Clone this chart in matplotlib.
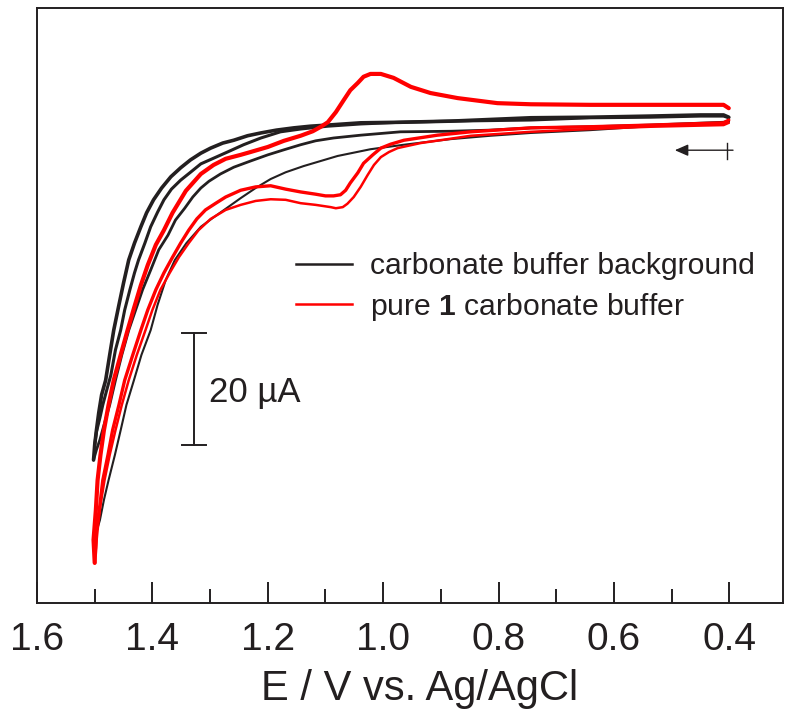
import matplotlib
matplotlib.use("Agg")
import matplotlib.pyplot as plt
from matplotlib.ticker import MultipleLocator

FONT = "Liberation Sans"
plt.rcParams["font.family"] = [FONT, "DejaVu Sans"]
plt.rcParams["mathtext.fontset"] = "custom"
plt.rcParams["mathtext.rm"] = FONT
plt.rcParams["mathtext.bf"] = FONT + ":bold"

INK = "#231f20"
RED = "#ff0000"

# ---------------- data (E in V vs Ag/AgCl, I in uA, arbitrary offset) ----------------
# background, reverse scans (upper branches)
bg_rev1_E = [1.502, 1.500, 1.497, 1.493, 1.488, 1.481, 1.474, 1.467, 1.458, 1.450, 1.441, 1.431,
             1.420, 1.410, 1.398, 1.384, 1.368, 1.351, 1.334, 1.316, 1.299, 1.278, 1.259, 1.235,
             1.212, 1.185, 1.155, 1.126, 1.096, 1.039, 0.970, 0.883, 0.744, 0.641, 0.537, 0.450,
             0.410, 0.401]
bg_rev1_I = [-60.5, -57.8, -55.2, -52.1, -48.9, -46.3, -41.8, -37.4, -32.9, -29.0, -24.9, -21.9,
             -19.0, -16.5, -14.2, -12.1, -10.1, -8.5, -7.1, -5.9, -5.0, -4.1, -3.6, -2.8,
             -2.3, -1.8, -1.4, -1.1, -0.9, -0.5, -0.4, -0.2, 0.4, 0.5, 0.7, 0.9,
             0.9, 0.5]
bg_rev2_E = [1.500, 1.497, 1.491, 1.486, 1.479, 1.472, 1.464, 1.455, 1.448, 1.439,
             1.431, 1.424, 1.413, 1.403, 1.391, 1.380, 1.367, 1.351, 1.334, 1.316, 1.294, 1.270,
             1.242, 1.212, 1.178, 1.143, 1.096, 1.039, 0.970, 0.883, 0.744, 0.641, 0.537, 0.450,
             0.410, 0.401]
bg_rev2_I = [-57.8, -55.5, -53.0, -50.7, -48.0, -45.4, -40.9, -37.4, -33.8, -30.2,
             -27.2, -24.9, -21.9, -19.0, -16.4, -14.2, -12.3, -10.7, -9.3, -7.8, -6.8, -5.7,
             -4.4, -3.2, -2.1, -1.6, -1.1, -0.7, -0.4, -0.2, 0.0, 0.4, 0.5, 0.7,
             0.7, 0.4]
# background, forward scans (lower branches)
bg_fwd1_E = [0.401, 0.410, 0.537, 0.641, 0.744, 0.814, 0.883, 0.970, 1.039, 1.086, 1.117, 1.143,
             1.172, 1.200, 1.230, 1.259, 1.282, 1.302, 1.316, 1.330, 1.344, 1.360, 1.373, 1.389,
             1.403, 1.417, 1.429, 1.441, 1.453, 1.464, 1.474, 1.484, 1.491, 1.497, 1.502]
bg_fwd1_I = [-0.2, -0.4, -0.9, -1.2, -1.4, -1.8, -2.0, -2.1, -2.7, -3.2, -3.7, -4.4,
             -5.3, -6.2, -7.3, -8.4, -9.6, -10.9, -12.1, -13.7, -15.7, -17.8, -20.5, -23.1,
             -26.7, -30.2, -33.8, -37.4, -41.8, -46.3, -50.7, -54.3, -56.9, -58.7, -60.5]
bg_fwd0_E = [0.401, 0.410, 0.537, 0.641, 0.744, 0.814, 0.883, 0.964, 1.022, 1.079, 1.138, 1.169,
             1.195, 1.221, 1.247, 1.273, 1.295, 1.316, 1.341, 1.361, 1.377, 1.391, 1.403, 1.419,
             1.432, 1.445, 1.455, 1.465, 1.476, 1.484, 1.491, 1.497, 1.502]
bg_fwd0_I = [-0.5, -0.5, -1.1, -1.8, -2.3, -2.8, -3.4, -4.4, -5.2, -6.4, -8.2, -9.3,
             -10.5, -12.1, -13.9, -15.8, -17.4, -19.0, -21.9, -24.9, -28.5, -32.9, -37.4, -41.8,
             -46.3, -50.7, -55.2, -59.6, -64.1, -67.6, -71.2, -73.3, -74.7]

# pure 1 in carbonate buffer, reverse scan (upper branch with cathodic peak)
s1_rev_E = [1.500, 1.502, 1.498, 1.495, 1.490, 1.484, 1.476, 1.467, 1.455, 1.443, 1.432, 1.420,
            1.408, 1.394, 1.380, 1.365, 1.342, 1.316, 1.294, 1.273, 1.247, 1.230, 1.200, 1.172,
            1.143, 1.122, 1.108, 1.096, 1.082, 1.068, 1.057, 1.044, 1.034, 1.022, 1.004, 0.982,
            0.952, 0.918, 0.871, 0.802, 0.744, 0.641, 0.536, 0.450, 0.410, 0.401]
s1_rev_I = [-78.8, -74.7, -69.4, -64.1, -59.6, -55.2, -50.7, -46.3, -41.8, -37.4, -33.5, -29.4,
            -25.8, -22.2, -19.6, -16.5, -12.6, -9.6, -8.0, -6.9, -6.2, -5.7, -4.8, -3.7,
            -2.8, -2.0, -1.2, -0.4, 1.4, 3.6, 5.3, 6.6, 7.7, 8.2, 8.2, 7.5,
            5.9, 4.8, 3.9, 3.0, 2.8, 2.7, 2.7, 2.7, 2.7, 2.1]
# pure 1, forward scans (lower branches with anodic wave)
s1_fwd1_E = [0.401, 0.410, 0.537, 0.641, 0.744, 0.848, 0.906, 0.964, 0.987, 1.004, 1.018, 1.034,
             1.044, 1.057, 1.065, 1.074, 1.086, 1.100, 1.117, 1.143, 1.169, 1.195, 1.221, 1.247,
             1.273, 1.290, 1.308, 1.323, 1.337, 1.351, 1.365, 1.380, 1.394, 1.408, 1.420, 1.434,
             1.448, 1.458, 1.469, 1.477, 1.486, 1.491, 1.497, 1.498, 1.500]
s1_fwd1_I = [0.0, -0.5, -0.9, -1.2, -1.4, -2.1, -2.7, -3.6, -4.3, -5.0, -6.2, -7.7,
             -9.4, -11.2, -12.5, -13.3, -13.5, -13.5, -13.2, -12.8, -12.3, -11.7, -11.9, -12.5,
             -13.7, -14.8, -16.0, -17.6, -19.6, -21.9, -24.4, -27.2, -30.2, -33.8, -37.4, -41.8,
             -46.3, -50.7, -55.2, -59.6, -64.1, -68.5, -73.0, -76.2, -78.8]
s1_fwd2_E = [0.401, 0.410, 0.537, 0.641, 0.744, 0.848, 0.935, 0.975, 0.990, 1.004, 1.016, 1.027,
             1.039, 1.051, 1.062, 1.070, 1.082, 1.091, 1.117, 1.143, 1.169, 1.195, 1.221, 1.247,
             1.273, 1.299, 1.320, 1.337, 1.354, 1.370, 1.386, 1.400, 1.412, 1.427, 1.441, 1.453,
             1.464, 1.474, 1.483, 1.490, 1.495, 1.498, 1.500]
s1_fwd2_I = [-0.5, -0.9, -1.2, -1.6, -2.1, -2.8, -4.1, -5.0, -5.7, -6.6, -8.0, -9.8,
             -11.9, -13.7, -14.9, -15.5, -15.7, -15.5, -15.1, -14.8, -14.2, -14.1, -14.4, -15.1,
             -16.0, -17.6, -19.6, -21.9, -24.4, -27.2, -30.2, -33.8, -37.4, -41.8, -46.3, -50.7,
             -55.2, -59.6, -64.1, -68.5, -73.0, -76.2, -78.8]

x_ticks = [1.6, 1.4, 1.2, 1.0, 0.8, 0.6, 0.4]
x_labels = ["1.6", "1.4", "1.2", "1.0", "0.8", "0.6", "0.4"]
legend_labels = ["carbonate buffer background", r"pure $\mathbf{1}$ carbonate buffer"]
scale_label = "20 \u00b5A"
x_label = "E / V vs. Ag/AgCl"

# ---------------- figure ----------------
fig = plt.figure(figsize=(7.88, 7.17), dpi=100)
ax = fig.add_axes([37 / 788, 114 / 717, 746 / 788, 595 / 717])

kw = dict(solid_joinstyle="round", solid_capstyle="round")
ax.plot(bg_fwd0_E, bg_fwd0_I, color=INK, lw=1.5, **kw)
ax.plot(bg_fwd1_E, bg_fwd1_I, color=INK, lw=2.0, **kw)
ax.plot(bg_rev2_E, bg_rev2_I, color=INK, lw=2.2, **kw)
ax.plot(bg_rev1_E, bg_rev1_I, color=INK, lw=2.6, **kw)
ax.plot(s1_fwd2_E, s1_fwd2_I, color=RED, lw=1.8, **kw)
ax.plot(s1_fwd1_E, s1_fwd1_I, color=RED, lw=2.4, **kw)
ax.plot(s1_rev_E, s1_rev_I, color=RED, lw=3.0, **kw)

ax.set_xlim(1.6, 0.307)
ax.set_ylim(-85.94, 19.93)
ax.set_xticks(x_ticks)
ax.set_xticklabels(x_labels)
ax.xaxis.set_minor_locator(MultipleLocator(0.1))
ax.set_yticks([])
ax.tick_params(axis="x", which="major", direction="in", length=15, width=1.4,
               color=INK, labelsize=28, pad=14, labelcolor=INK, top=False)
ax.tick_params(axis="x", which="minor", direction="in", length=10, width=1.4,
               color=INK, top=False)
for s in ax.spines.values():
    s.set_linewidth(1.4)
    s.set_color(INK)
ax.set_xlabel(x_label, fontsize=30, color=INK, labelpad=9)
ax.xaxis.set_label_coords(0.513, -0.111)

# legend (drawn by hand)
ax.plot([0.347, 0.422], [0.570, 0.570], transform=ax.transAxes, color=INK, lw=1.8)
ax.plot([0.347, 0.422], [0.503, 0.503], transform=ax.transAxes, color=RED, lw=1.8)
ax.text(0.446, 0.553, legend_labels[0], transform=ax.transAxes, fontsize=21.7,
        color=INK, va="baseline", ha="left")
ax.text(0.446, 0.484, legend_labels[1], transform=ax.transAxes, fontsize=21.7,
        color=INK, va="baseline", ha="left")

# scale bar
ax.plot([0.2105, 0.2105], [0.2655, 0.4538], transform=ax.transAxes, color=INK, lw=1.4)
ax.plot([0.1944, 0.2265], [0.4538, 0.4538], transform=ax.transAxes, color=INK, lw=1.4)
ax.plot([0.1944, 0.2265], [0.2655, 0.2655], transform=ax.transAxes, color=INK, lw=1.4)
ax.text(0.2306, 0.338, scale_label, transform=ax.transAxes, fontsize=25,
        color=INK, va="baseline", ha="left")

# scan direction arrow
ax.annotate("", xy=(0.855, 0.761), xytext=(0.933, 0.761), xycoords="axes fraction",
            arrowprops=dict(arrowstyle="-|>,head_length=0.8,head_width=0.35",
                            color=INK, lw=1.0, shrinkA=0, shrinkB=0))
ax.plot([0.925, 0.925], [0.746, 0.773], transform=ax.transAxes, color=INK, lw=1.0)

fig.savefig("out.png", dpi=100)
